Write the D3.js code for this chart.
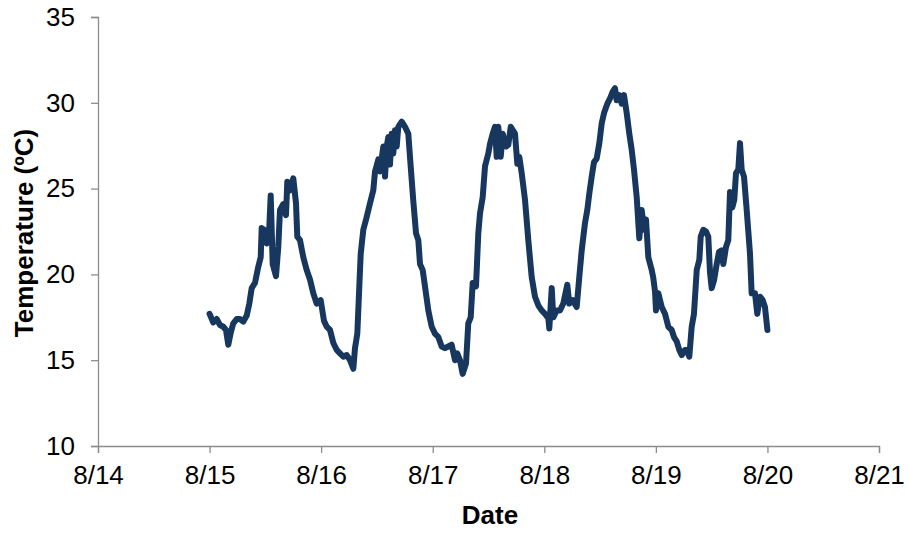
<!DOCTYPE html>
<html>
<head>
<meta charset="utf-8">
<script src="https://cdn.jsdelivr.net/npm/d3@7"></script>
<style>
  body { margin: 0; background: #fff; }
  text { font-family: "Liberation Sans", Arial, sans-serif; }
</style>
</head>
<body>
<div id="chart"></div>
<script>
const W = 909, H = 533;
const margin = { top: 17, right: 30, bottom: 87, left: 98 };

// hours after 8/15 00:00
const hours = [0.0, 0.80, 1.53, 2.24, 2.95, 3.53, 4.03, 4.55, 5.10, 5.84, 6.55, 7.26, 7.99, 8.55, 9.06, 9.77,
  10.48, 11.0, 11.21, 11.71, 12.29, 12.72, 13.15, 13.58, 14.29, 14.78, 15.15, 15.86, 16.44, 16.72, 17.30, 18.01,
  18.59, 18.87, 19.45, 20.16, 20.89, 21.60, 22.31, 23.04, 23.90, 24.61, 25.20, 25.91, 26.62, 27.35, 28.06, 28.77,
  29.50, 30.21, 30.92, 31.28, 31.78, 32.21, 32.51, 33.07, 33.80, 34.51, 35.22, 35.59, 36.30, 36.66, 37.37, 37.74,
  38.10, 38.45, 38.81, 39.18, 39.52, 39.89, 40.25, 40.60, 41.33, 42.04, 42.75, 43.26, 43.82, 44.41, 44.90, 45.27,
  45.85, 46.34, 47.05, 47.78, 48.49, 49.20, 49.93, 50.64, 51.35, 52.08, 52.79, 53.28, 53.86, 54.45, 55.16, 55.65,
  56.17, 56.60, 57.31, 57.81, 58.17, 58.75, 59.25, 59.96, 60.32, 60.90, 61.40, 61.76, 62.11, 62.63, 63.06, 63.77,
  64.26, 64.78, 65.70, 66.20, 66.63, 67.14, 67.85, 68.56, 69.29, 70.00, 70.71, 71.44, 72.15, 72.86, 73.08, 73.60,
  73.94, 74.67, 75.38, 76.09, 76.95, 77.38, 78.11, 78.97, 79.53, 80.05, 80.76, 81.25, 81.68, 82.20, 82.70, 83.27,
  83.84, 84.35, 84.85, 85.56, 86.14, 86.72, 87.21, 87.58, 88.14, 88.65, 89.15, 89.73, 90.29, 90.81, 91.30, 91.88,
  92.44, 92.96, 93.45, 93.88, 94.38, 95.11, 95.45, 95.82, 96.03, 96.53, 97.26, 97.97, 98.68, 99.41, 99.90, 100.48,
  101.04, 101.56, 102.27, 102.63, 103.19, 103.71, 104.20, 104.79, 105.35, 105.65, 106.21, 106.79, 107.28, 107.65, 108.01, 108.51,
  109.09, 109.58, 110.16, 110.51, 111.09, 111.58, 111.95, 112.44, 112.87, 113.24, 113.73, 114.10, 114.46, 114.96, 115.54, 116.25,
  116.61, 117.32, 117.82, 118.40, 118.98, 119.47, 120.0];

const temps = [17.7, 17.2, 17.4, 17.05, 16.95, 16.76, 15.9, 16.6, 17.15, 17.4, 17.4, 17.25, 17.6, 18.3, 19.2, 19.5,
  20.45, 21.0, 22.7, 22.6, 21.8, 22.0, 24.6, 20.6, 19.9, 21.6, 23.75, 24.1, 23.45, 25.4, 24.9, 25.6,
  24.15, 22.2, 22.0, 21.0, 20.25, 19.7, 18.9, 18.3, 18.5, 17.3, 16.95, 16.76, 16.0, 15.6, 15.4, 15.2,
  15.3, 15.0, 14.5, 15.7, 16.55, 19.3, 21.2, 22.6, 23.35, 24.15, 24.9, 26.0, 26.7, 26.0, 27.45, 25.7,
  27.45, 28.0, 26.4, 28.2, 27.05, 28.4, 27.45, 28.6, 28.9, 28.6, 28.2, 26.3, 24.3, 22.4, 22.0, 20.6,
  20.25, 19.3, 17.9, 16.95, 16.55, 16.35, 15.8, 15.7, 15.8, 15.9, 15.0, 15.4, 15.0, 14.2, 14.8, 17.15,
  17.5, 19.5, 19.3, 22.4, 23.55, 24.5, 26.3, 27.05, 27.6, 28.2, 28.6, 26.85, 28.6, 26.85, 28.2, 27.45,
  27.55, 28.6, 28.2, 26.45, 26.85, 25.9, 24.35, 22.0, 19.85, 18.7, 18.2, 17.9, 17.7, 17.45, 16.85, 19.2,
  17.5, 17.9, 17.9, 18.3, 19.4, 18.3, 18.5, 18.1, 19.85, 21.4, 23.0, 23.75, 24.7, 25.7, 26.55, 26.75,
  27.65, 28.8, 29.4, 29.95, 30.25, 30.65, 30.85, 30.15, 30.45, 29.95, 30.45, 29.4, 28.2, 27.25, 26.1, 24.5,
  22.1, 23.75, 22.6, 23.2, 21.0, 20.25, 19.8, 19.0, 17.9, 18.9, 18.1, 17.7, 16.95, 16.76, 16.35, 16.1,
  15.6, 15.3, 15.6, 15.6, 15.2, 16.95, 17.7, 20.25, 20.85, 22.2, 22.6, 22.5, 22.2, 20.1, 19.2, 19.65,
  20.6, 21.3, 21.4, 20.6, 21.6, 22.0, 24.8, 23.9, 24.35, 25.9, 26.1, 27.65, 26.1, 25.7, 23.75, 21.2,
  18.9, 18.9, 17.7, 18.7, 18.5, 18.1, 16.76];

const yTicks = [10, 15, 20, 25, 30, 35];
const start = new Date(2013, 7, 15);
const xDomain = [new Date(2013, 7, 14), new Date(2013, 7, 21)];

const data = hours.map((h, i) => ({ t: new Date(start.getTime() + h * 3600000), v: temps[i] }));

const svg = d3.select('#chart').append('svg')
  .attr('width', W)
  .attr('height', H);

const x = d3.scaleTime().domain(xDomain).range([margin.left, W - margin.right]);
const y = d3.scaleLinear().domain([10, 35]).range([H - margin.bottom, margin.top]);

const xAxis = svg.append('g')
  .attr('transform', `translate(0,${H - margin.bottom})`)
  .call(d3.axisBottom(x).ticks(d3.timeDay.every(1)).tickFormat(d3.timeFormat('%-m/%-d')).tickSizeOuter(0).tickSize(7).tickPadding(13));

const yAxis = svg.append('g')
  .attr('transform', `translate(${margin.left},0)`)
  .call(d3.axisLeft(y).tickValues(yTicks).tickSizeOuter(0).tickSize(7).tickPadding(16));

[xAxis, yAxis].forEach(a => {
  a.select('.domain').attr('stroke', '#8c8c8c').attr('stroke-width', 1.3);
  a.selectAll('.tick line').attr('stroke', '#8c8c8c').attr('stroke-width', 1.3);
  a.selectAll('.tick text').attr('fill', '#000').style('font-size', '26px');
});

const line = d3.line()
  .x(d => x(d.t))
  .y(d => y(d.v));

svg.append('path')
  .datum(data)
  .attr('fill', 'none')
  .attr('stroke', '#17375e')
  .attr('stroke-width', 6)
  .attr('stroke-linejoin', 'round')
  .attr('stroke-linecap', 'round')
  .attr('d', line);

svg.append('text')
  .attr('x', 490)
  .attr('y', 524)
  .attr('text-anchor', 'middle')
  .style('font-size', '26px')
  .style('font-weight', 'bold')
  .text('Date');

svg.append('text')
  .attr('transform', `translate(33,233) rotate(-90)`)
  .attr('text-anchor', 'middle')
  .style('font-size', '26px')
  .style('font-weight', 'bold')
  .text('Temperature (ºC)');
</script>
</body>
</html>
